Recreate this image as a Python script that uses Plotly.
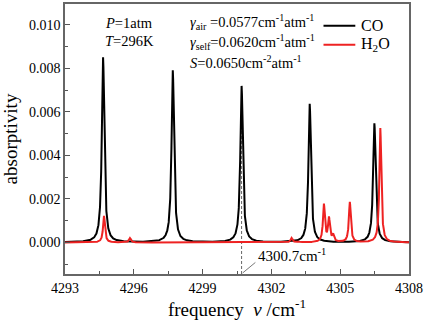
import numpy as np
import plotly.graph_objects as go

# ---- data ----
co_centers = [4294.66, 4297.70, 4300.70, 4303.67, 4306.49]
co_heights = [0.0085, 0.0079, 0.00718, 0.00636, 0.00547]
co_hwhm = 0.065

h2o_centers = [4294.70, 4295.83, 4302.88, 4303.18, 4304.29, 4304.51, 4304.69, 4305.42, 4306.75]
h2o_heights = [0.00122, 0.00020, 0.00020, 0.00004, 0.00172, 0.00108, 0.00030, 0.00185, 0.00525]
h2o_hwhm = 0.05

marked_freq = 4300.7
x_ticks = [4293, 4296, 4299, 4302, 4305, 4308]
y_ticks = [0.000, 0.002, 0.004, 0.006, 0.008, 0.010]

nu = np.linspace(4293, 4308, 6001)


def spectrum(centers, heights, g):
    s = np.zeros_like(nu)
    for c, h in zip(centers, heights):
        s += h * g**2 / ((nu - c) ** 2 + g**2)
    return s


co = spectrum(co_centers, co_heights, co_hwhm)
h2o = spectrum(h2o_centers, h2o_heights, h2o_hwhm)

FONT = "Liberation Serif"
RED = "#ee2222"

fig = go.Figure()
fig.add_trace(go.Scatter(x=nu, y=co, mode="lines", name="CO",
                         line=dict(color="black", width=2)))
fig.add_trace(go.Scatter(x=nu, y=h2o, mode="lines", name="H<sub>2</sub>O",
                         line=dict(color=RED, width=2)))

# dashed marker line
fig.add_shape(type="line", x0=marked_freq, x1=marked_freq, y0=-0.00145,
              y1=co_heights[2], line=dict(color="#666", width=1, dash="3px,2px"),
              layer="below")
# leader line
fig.add_shape(type="line", x0=marked_freq + 0.05, x1=marked_freq + 0.6,
              y0=-0.00140, y1=-0.00092, line=dict(color="#555", width=0.8))
fig.add_annotation(x=marked_freq + 0.65, y=-0.00058, xanchor="left", yanchor="middle",
                   text="%.1fcm<sup>-1</sup>" % marked_freq, showarrow=False,
                   font=dict(family=FONT, size=15, color="black"))


def px2paper(px, py):
    return (px - 65) / 346, (274 - py) / 272


# parameter texts
ann = [
    (103, 21, "<i>P</i>=1atm"),
    (103, 39, "<i>T</i>=296K"),
    (189, 20, "<i>γ</i><sub>air</sub> =0.0577cm<sup>-1</sup>atm<sup>-1</sup>"),
    (189, 40, "<i>γ</i><sub>self</sub>=0.0620cm<sup>-1</sup>atm<sup>-1</sup>"),
    (189, 60, "<i>S</i>=0.0650cm<sup>-2</sup>atm<sup>-1</sup>"),
]
for px, py, t in ann:
    x, y = px2paper(px, py)
    fig.add_annotation(xref="paper", yref="paper", x=x, y=y,
                       xanchor="left", yanchor="middle", text=t, showarrow=False,
                       font=dict(family=FONT, size=14.5, color="black"))

# legend (drawn manually to match compact spacing)
legend_items = [("CO", "black", 24), ("H<sub>2</sub>O", RED, 43)]
for label, color, py in legend_items:
    x0, y0 = px2paper(325, py)
    x1, _ = px2paper(357, py)
    fig.add_shape(type="line", xref="paper", yref="paper", x0=x0, x1=x1, y0=y0, y1=y0,
                  line=dict(color=color, width=2))
    xt, _ = px2paper(361, py)
    fig.add_annotation(xref="paper", yref="paper", x=xt, y=y0, xanchor="left",
                       yanchor="middle", text=label, showarrow=False,
                       font=dict(family=FONT, size=16, color="black"))

fig.update_layout(
    width=425, height=323,
    margin=dict(l=65, r=14, t=2, b=49),
    paper_bgcolor="white", plot_bgcolor="white",
    showlegend=False,
    font=dict(family=FONT, color="black", size=14),
    xaxis=dict(range=[4293, 4308], tickvals=x_ticks, ticktext=[str(v) for v in x_ticks],
               ticks="inside", ticklen=5, tickcolor="#555", showline=True, linecolor="#666",
               linewidth=1.5, mirror=True, showgrid=False, zeroline=False,
               tickfont=dict(size=14),
               minor=dict(dtick=1.5, tick0=4293, ticks="inside", ticklen=3, tickcolor="#555"),
               title=dict(text="frequency  <i>ν</i> /cm<sup>-1</sup>", font=dict(size=19),
                          standoff=4)),
    yaxis=dict(range=[-0.00145, 0.01095], tickvals=y_ticks,
               ticktext=["%.3f" % v for v in y_ticks],
               ticks="inside", ticklen=5, tickcolor="#555", showline=True, linecolor="#666",
               linewidth=1.5, mirror=True, showgrid=False, zeroline=False,
               tickfont=dict(size=14),
               minor=dict(dtick=0.001, tick0=0, ticks="inside", ticklen=3, tickcolor="#555"),
               title=dict(text="absorptivity", font=dict(size=19), standoff=6)),
)

fig.write_html("out.html", config={"displayModeBar": False},
               post_script="document.body.style.margin='0';document.body.style.overflow='hidden';")
